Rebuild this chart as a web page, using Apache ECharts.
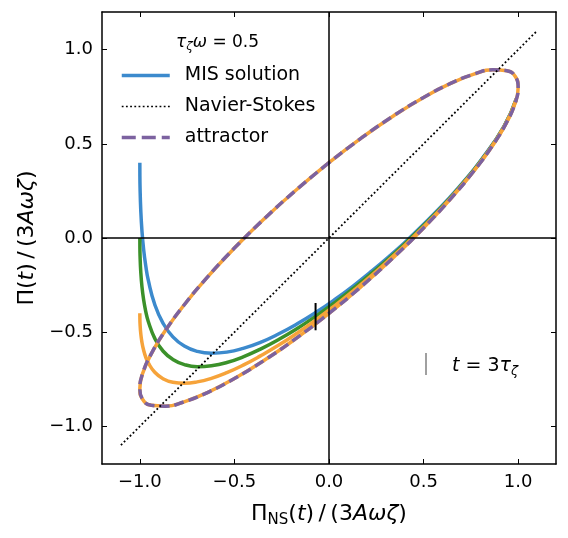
<!DOCTYPE html>
<html lang="en">
<head>
<meta charset="utf-8">
<title>MIS solution and attractor</title>
<script src="https://cdn.jsdelivr.net/npm/echarts@6.0.0/dist/echarts.min.js"></script>
<style>
  html, body { margin: 0; padding: 0; background: #fff; }
  #main { width: 568px; height: 538px; }
</style>
</head>
<body>
<div id="main"></div>
<script>
// Pi_NS/(3 A omega zeta) along the MIS transients (same for the three starts)
var misX = [-1, -0.9998, -0.9988, -0.995, -0.9888, -0.9801, -0.9689, -0.9553, -0.9211, -0.8776,
            -0.8253, -0.7648, -0.6967, -0.6216, -0.5403, -0.4536, -0.3624, -0.2675, -0.17, -0.0707,
            0.0292, 0.1288, 0.2272, 0.3233, 0.4161, 0.5885, 0.7027, 0.8011, 0.9243, 0.99];
// Pi/(3 A omega zeta) for the three initial values
var misBlue = [0.4, 0.345, 0.267, 0.147, 0.038, -0.059, -0.146, -0.224, -0.353, -0.452,
               -0.525, -0.574, -0.602, -0.612, -0.606, -0.586, -0.554, -0.51, -0.457, -0.396,
               -0.328, -0.254, -0.175, -0.093, -0.009, 0.162, 0.289, 0.41, 0.592, 0.739];
var misGreen = [0, -0.039, -0.095, -0.181, -0.258, -0.327, -0.389, -0.443, -0.533, -0.6,
                -0.645, -0.672, -0.683, -0.678, -0.661, -0.631, -0.59, -0.54, -0.482, -0.416,
                -0.344, -0.267, -0.186, -0.102, -0.016, 0.157, 0.285, 0.407, 0.59, 0.738];
var misOrange = [-0.4, -0.424, -0.457, -0.508, -0.554, -0.595, -0.632, -0.663, -0.713, -0.747,
                 -0.766, -0.771, -0.764, -0.745, -0.715, -0.675, -0.626, -0.57, -0.506, -0.436,
                 -0.36, -0.28, -0.197, -0.111, -0.024, 0.152, 0.281, 0.404, 0.588, 0.737];

// attractor loop
var attX = [0, -0.1736, -0.342, -0.5, -0.6428, -0.766, -0.866, -0.9397, -0.9848, -1,
            -0.9848, -0.9397, -0.866, -0.766, -0.6428, -0.5, -0.342, -0.1736, 0,
            0.1736, 0.342, 0.5, 0.6428, 0.766, 0.866, 0.9397, 0.9848, 1,
            0.9848, 0.9397, 0.866, 0.766, 0.6428, 0.5, 0.342, 0.1736, 0];
var attY = [0.4, 0.255, 0.1023, -0.0536, -0.2078, -0.3557, -0.4928, -0.615, -0.7184, -0.8,
            -0.8572, -0.8886, -0.8928, -0.8699, -0.8206, -0.7464, -0.6495, -0.5328, -0.4,
            -0.255, -0.1023, 0.0536, 0.2078, 0.3557, 0.4928, 0.615, 0.7184, 0.8,
            0.8572, 0.8886, 0.8928, 0.8699, 0.8206, 0.7464, 0.6495, 0.5328, 0.4];

// Navier-Stokes: Pi = Pi_NS
var nsX = [-1.1, 1.1];
var nsY = [-1.1, 1.1];

// marker at t = 3 tau
var markX = [-0.071, -0.071];
var markY = [-0.345, -0.49];

var tickVals = [-1.0, -0.5, 0.0, 0.5, 1.0];

var FONT = 'DejaVu Sans';
var BLUE = '#3c8acd', GREEN = '#3b912a', ORANGE = '#f6a33a', PURPLE = '#7c62a0';

function pairs(xs, ys) {
    return xs.map(function (x, i) { return [x, ys[i]]; });
}
function fmt(v) {
    return v.toFixed(1).replace('-', '\u2212');
}

function mathRich(size) {
    var sub = Math.round(size * 0.7);
    var drop = Math.round(size * 0.55);
    return {
        r: { fontFamily: FONT, fontSize: size, fontWeight: 'normal', color: '#000' },
        i: { fontFamily: FONT, fontSize: size, fontWeight: 'normal', fontStyle: 'italic', color: '#000' },
        sub: { fontFamily: FONT, fontSize: sub, fontWeight: 'normal', color: '#000', padding: [drop, 0, 0, 0] },
        isub: { fontFamily: FONT, fontSize: sub, fontWeight: 'normal', fontStyle: 'italic', color: '#000', padding: [drop, 0, 0, 0] }
    };
}

function axis(pos, withLabels) {
    return {
        type: 'value',
        position: pos,
        min: -1.2,
        max: 1.2,
        axisLine: { show: true, onZero: false, lineStyle: { color: '#000', width: 1.5 } },
        axisTick: { show: true, inside: true, length: 5, customValues: tickVals,
                    lineStyle: { color: '#000', width: 1 } },
        axisLabel: { show: withLabels, customValues: tickVals, formatter: fmt, margin: 9,
                     fontFamily: FONT, fontSize: 18, color: '#000' },
        splitLine: { show: false }
    };
}

var chart = echarts.init(document.getElementById('main'));

var xBottom = axis('bottom', true);
xBottom.name = '{r|\u03a0}{sub|NS}{r|(}{i|t}{r|)\u2009/\u2009(3}{i|A\u03c9\u03b6}{r|)}';
xBottom.nameLocation = 'middle';
xBottom.nameGap = 37;
xBottom.nameTextStyle = { rich: mathRich(22) };

var yLeft = axis('left', true);
yLeft.name = '{r|\u03a0(}{i|t}{r|)\u2009/\u2009(3}{i|A\u03c9\u03b6}{r|)}';
yLeft.nameLocation = 'middle';
yLeft.nameGap = 63;
yLeft.nameRotate = 90;
yLeft.nameTextStyle = { rich: mathRich(22) };

var option = {
    animation: false,
    backgroundColor: '#fff',
    grid: { left: 102, right: 12, top: 12, bottom: 74 },
    title: {
        text: '{i|\u03c4}{isub|\u03b6}{i|\u03c9}{r| = 0.5}',
        left: 171,
        top: 27,
        textStyle: { rich: mathRich(17) }
    },
    legend: {
        data: [
            { name: 'MIS solution', lineStyle: { width: 3.5 } },
            { name: 'Navier-Stokes', lineStyle: { width: 1.5 } },
            { name: 'attractor', lineStyle: { width: 3.5, type: [14, 6] } }
        ],
        orient: 'vertical',
        left: 115,
        top: 61,
        itemWidth: 48,
        itemHeight: 20,
        itemGap: 12,
        itemStyle: { opacity: 0 },
        textStyle: { fontFamily: FONT, fontSize: 19, color: '#000', padding: [0, 0, 0, 10] }
    },
    xAxis: [xBottom, axis('top', false)],
    yAxis: [yLeft, axis('right', false)],
    graphic: [
        { type: 'line', shape: { x1: 426, y1: 353, x2: 426, y2: 375 },
          style: { stroke: '#808080', lineWidth: 1.5 } },
        { type: 'text', left: 452, top: 357,
          style: { text: '{i|t}{r| = 3}{i|\u03c4}{isub|\u03b6}', rich: mathRich(19) } }
    ],
    series: [
        {
            name: 'MIS solution', type: 'line', data: pairs(misX, misBlue),
            symbol: 'none', smooth: true,
            lineStyle: { color: BLUE, width: 3.5 }, itemStyle: { color: BLUE }
        },
        {
            name: 'MIS green', type: 'line', data: pairs(misX, misGreen),
            symbol: 'none', smooth: true,
            lineStyle: { color: GREEN, width: 3.5 }, itemStyle: { color: GREEN }
        },
        {
            name: 'MIS orange', type: 'line', data: pairs(misX, misOrange),
            symbol: 'none', smooth: true,
            lineStyle: { color: ORANGE, width: 3.5 }, itemStyle: { color: ORANGE }
        },
        {
            // late-time MIS (orange) sitting on the attractor
            name: 'MIS orange late', type: 'line', data: pairs(attX, attY),
            symbol: 'none', smooth: true,
            lineStyle: { color: ORANGE, width: 3.5 }, itemStyle: { color: ORANGE }
        },
        {
            name: 'attractor', type: 'line', data: pairs(attX, attY),
            symbol: 'none', smooth: true,
            lineStyle: { color: PURPLE, width: 3.5, type: [10, 5] }, itemStyle: { color: PURPLE }
        },
        {
            name: 'Navier-Stokes', type: 'line', data: pairs(nsX, nsY),
            symbol: 'none',
            lineStyle: { color: '#000', width: 1.8, type: [1.8, 2.4] }, itemStyle: { color: '#000' },
            markLine: {
                silent: true,
                symbol: 'none',
                label: { show: false },
                lineStyle: { color: '#000', width: 1.5, type: 'solid' },
                data: [{ xAxis: 0 }, { yAxis: 0 }]
            }
        },
        {
            name: 't3', type: 'line', data: pairs(markX, markY),
            symbol: 'none', z: 6,
            lineStyle: { color: '#000', width: 2 }
        }
    ]
};

chart.setOption(option);
</script>
</body>
</html>
